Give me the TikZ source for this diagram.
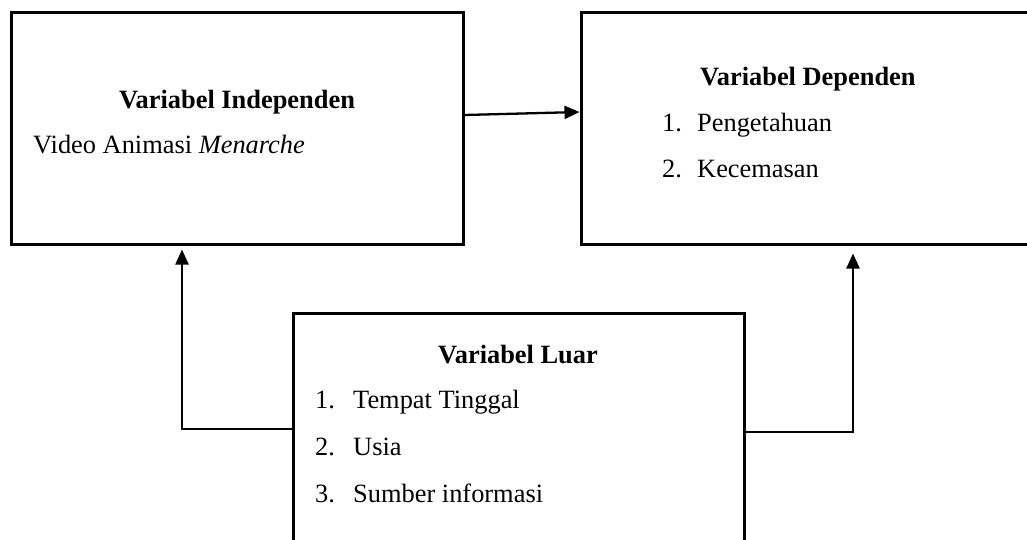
\documentclass[tikz,border=0pt]{standalone}
\usepackage{fontspec}
\setmainfont{Liberation Serif}
\usetikzlibrary{arrows.meta}
\begin{document}
\begin{tikzpicture}[x=1pt,y=-1pt,
  box/.style={draw, line width=3pt, inner sep=0pt},
  conn/.style={line width=2.3pt, -{Triangle[length=15pt,width=13pt]}},
  txt/.style={font=\fontsize{26.4}{30}\selectfont, inner sep=0pt, anchor=base west},
  ttl/.style={font=\fontsize{26.4}{30}\selectfont\bfseries, inner sep=0pt, anchor=base}]
\clip (0,0) rectangle (1027,539);
\node[box, minimum width=452pt, minimum height=232pt] (indep) at (237,128) {};
\node[box, minimum width=459pt, minimum height=232pt] (dep) at (810.5,128) {};
\node[box, minimum width=451pt, minimum height=257pt] (luar) at (518.5,441.5) {};
\node[ttl] (t1) at (237,108) {Variabel Independen};
\node[txt] (v1) at (33,153) {Video Animasi \textit{Menarche}};
\node[ttl, anchor=base west] (t2) at (700,85) {Variabel Dependen};
\node[txt] (d1) at (662,131) {\makebox[35pt][l]{1.}Pengetahuan};
\node[txt] (d2) at (662,177) {\makebox[35pt][l]{2.}Kecemasan};
\node[ttl] (t3) at (518,363) {Variabel Luar};
\node[txt] (l1) at (315,408) {\makebox[38pt][l]{1.}Tempat Tinggal};
\node[txt] (l2) at (315,455) {\makebox[38pt][l]{2.}Usia};
\node[txt] (l3) at (315,502) {\makebox[38pt][l]{3.}Sumber informasi};
\draw[conn] ([yshift=13pt]indep.east) -- ([yshift=16pt]dep.west);
\draw[conn] (luar.west |- 0,429) -| ([yshift=-4pt]indep.south -| 182,0);
\draw[conn] (luar.east |- 0,432) -| ([yshift=-8pt]dep.south -| 853,0);
\end{tikzpicture}
\end{document}
